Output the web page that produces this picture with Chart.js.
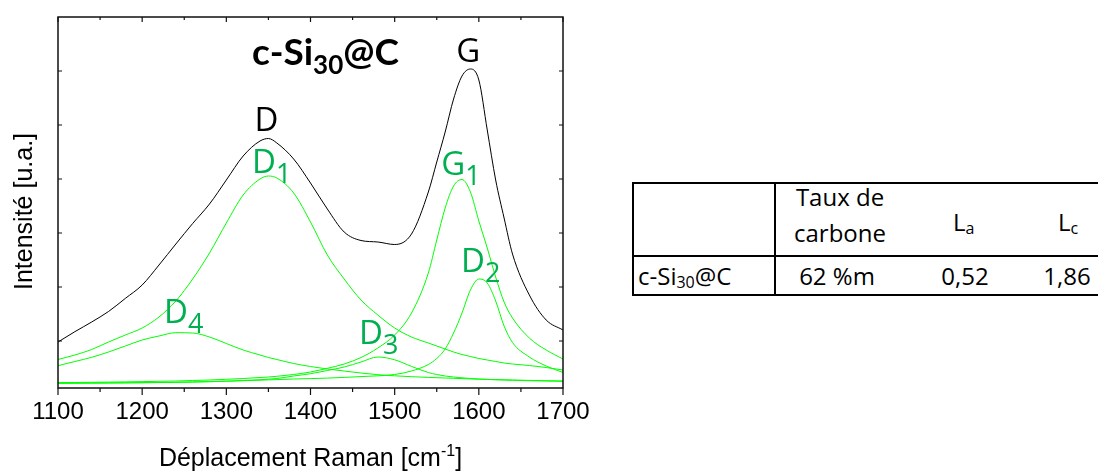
<!DOCTYPE html>
<html>
<head>
<meta charset="utf-8">
<script src="https://cdn.jsdelivr.net/npm/chart.js@4.4.1/dist/chart.umd.min.js"></script>
<style>
  html, body { margin:0; padding:0; background:#fff; }
  body { width:1098px; height:471px; overflow:hidden; position:relative; }
  #wrap { position:absolute; left:0; top:0; width:600px; height:471px; }
  #tbl { position:absolute; left:600px; top:0; }
</style>
</head>
<body>
<div id="wrap"><canvas id="c" width="600" height="471"></canvas></div>
<svg id="tbl" width="498" height="471" xmlns="http://www.w3.org/2000/svg">
  <g stroke="#000" stroke-width="2">
    <line x1="32" y1="183" x2="498" y2="183"/>
    <line x1="32" y1="256" x2="498" y2="256"/>
    <line x1="32" y1="295" x2="498" y2="295"/>
    <line x1="33" y1="182" x2="33" y2="296"/>
    <line x1="175" y1="182" x2="175" y2="296"/>
  </g>
  <g font-family="'Open Sans', sans-serif" font-size="24" fill="#000">
    <text x="240" y="206" text-anchor="middle">Taux de</text>
    <text x="240" y="242" text-anchor="middle">carbone</text>
    <text x="353" y="231">L<tspan font-size="16" dy="3">a</tspan></text>
    <text x="458" y="231">L<tspan font-size="16" dy="3">c</tspan></text>
    <text x="38" y="285">c-Si<tspan font-size="16" dy="3">30</tspan><tspan dy="-3">@C</tspan></text>
    <text x="237" y="285" text-anchor="middle">62 %m</text>
    <text x="365" y="285" text-anchor="middle">0,52</text>
    <text x="467" y="285" text-anchor="middle">1,86</text>
  </g>
</svg>
<script>
// ---- data (Raman shift in cm-1, intensity in a.u.) ----
const ramanShift = [1100,1120,1140,1160,1180,1200,1220,1240,1260,1280,1300,1320,1340,1350,1360,1380,1400,1420,1440,1460,1480,1500,1520,1540,1550,1560,1570,1580,1590,1600,1610,1620,1630,1640,1660,1680,1700];
const spectrumTotal = [53,63.3,73,83.5,96.6,110,130,151,171.5,191,215,239,254,256.5,252,236,212,186,163,154.5,153,150.5,161,203,233,263,296,319,326,315,265,215,177,141,100,75,65];
const bandD1 = [35.5,40,45.5,53,60,67,78,94,116,142,172,200,216,219,217,202,173,140,116,95,80,67,58,52,49,46,43,40.5,38.5,36.5,35,33.5,32,31,29.5,27.5,25];
const bandD4 = [29.3,33.5,37.7,43,49,55,59,62.3,62,58,51.5,45,40,37.5,35.5,31.5,28.5,26,24,22,20.3,19.2,18.3,17.6,17.3,17,16.7,16.4,16.1,15.8,15.6,15.4,15.2,15,14.6,14.3,14];
const bandD3 = [11.8,11.9,12,12.1,12.2,12.3,12.5,12.7,13,13.3,13.8,14.5,15.3,15.8,16.5,19,21.3,24.5,28,33,38,35.2,28.6,22.5,20.5,19,18,17.2,16.5,16,15.6,15.2,15,14.7,14.3,14,13.7];
const bandG1 = [12.4,12.5,12.7,12.9,13.1,13.4,13.7,14,14.5,15,15.7,16.5,17.5,18,18.7,20.5,23,26.7,31,37.5,47,60,82,122,155,187,209,215.5,203,174,147,118,93,77,57,45,36];
const bandD2 = [11.7,11.8,11.9,12,12.1,12.3,12.5,12.7,13,13.4,13.8,14.3,14.8,15.1,15.4,16,16.4,16.9,17.6,18.4,19.2,20.5,24,30.5,36.5,46,62,82,105,116,112,94,69,52.5,38,29,22.5];

const xMajorTicks = [1100,1200,1300,1400,1500,1600,1700];
const xMinorTicks = [1150,1250,1350,1450,1550,1650];
const yTicks = [54,108,162,216,270,324];

// ---- annotation texts (positions in data units) ----
const sampleTitle = {parts:['c-Si','30','@C'], x:1330.5, y:330};
const bandLabels = [
  {main:'D', sub:'',  x:1347.7, y:264, color:'#000', align:'center'},
  {main:'G', sub:'',  x:1587.4, y:333, color:'#000', align:'center'},
  {main:'D', sub:'1', x:1330.5, y:222, color:'#00b050', align:'left'},
  {main:'G', sub:'1', x:1555.4, y:220, color:'#00b050', align:'left'},
  {main:'D', sub:'2', x:1578.8, y:123, color:'#00b050', align:'left'},
  {main:'D', sub:'3', x:1457.6, y:51,  color:'#00b050', align:'left'},
  {main:'D', sub:'4', x:1225.9, y:72,  color:'#00b050', align:'left'}
];

const GREEN = '#00ff00';
function series(values) { return ramanShift.map((x, i) => ({x: x, y: values[i]})); }
function ds(label, values, color) {
  return {label, data: series(values), borderColor: color, borderWidth: 1,
          pointRadius: 0, fill: false, cubicInterpolationMode: 'monotone'};
}

const decor = {
  id: 'decor',
  afterDraw(chart) {
    const ctx = chart.ctx, a = chart.chartArea, xs = chart.scales.x, ys = chart.scales.y;
    ctx.save();
    // frame
    ctx.strokeStyle = '#111';
    ctx.lineWidth = 1.5;
    ctx.strokeRect(a.left, a.top, a.right - a.left, a.bottom - a.top);
    ctx.lineWidth = 1.2;
    ctx.beginPath();
    xMajorTicks.forEach(v => {
      const p = xs.getPixelForValue(v);
      ctx.moveTo(p, a.bottom); ctx.lineTo(p, a.bottom + 7);
      ctx.moveTo(p, a.top); ctx.lineTo(p, a.top + 5);
    });
    xMinorTicks.forEach(v => {
      const p = xs.getPixelForValue(v);
      ctx.moveTo(p, a.bottom); ctx.lineTo(p, a.bottom + 4);
      ctx.moveTo(p, a.top); ctx.lineTo(p, a.top + 3);
    });
    yTicks.forEach(v => {
      const p = ys.getPixelForValue(v);
      ctx.moveTo(a.left, p); ctx.lineTo(a.left + 4, p);
      ctx.moveTo(a.right, p); ctx.lineTo(a.right - 4, p);
    });
    ctx.stroke();

    // axis titles
    ctx.fillStyle = '#000';
    ctx.textBaseline = 'alphabetic';
    ctx.font = '25px "Liberation Sans", Arial, sans-serif';
    const t1 = 'Déplacement Raman [cm', t2 = '-1', t3 = ']';
    const w1 = ctx.measureText(t1).width, w3 = ctx.measureText(t3).width;
    ctx.font = '16px "Liberation Sans", Arial, sans-serif';
    const w2 = ctx.measureText(t2).width;
    let sx = (a.left + a.right) / 2 - (w1 + w2 + w3) / 2;
    const by = 466;
    ctx.font = '25px "Liberation Sans", Arial, sans-serif';
    ctx.textAlign = 'left';
    ctx.fillText(t1, sx, by);
    ctx.font = '16px "Liberation Sans", Arial, sans-serif';
    ctx.fillText(t2, sx + w1, by - 10);
    ctx.font = '25px "Liberation Sans", Arial, sans-serif';
    ctx.fillText(t3, sx + w1 + w2, by);

    ctx.save();
    ctx.translate(31.5, (a.top + a.bottom) / 2 + 9);
    ctx.rotate(-Math.PI / 2);
    ctx.textAlign = 'center';
    ctx.fillText('Intensité [u.a.]', 0, 0);
    ctx.restore();

    // sample title
    let tx = xs.getPixelForValue(sampleTitle.x), ty = ys.getPixelForValue(sampleTitle.y);
    ctx.textAlign = 'left';
    ctx.font = 'bold 37px Lato, sans-serif';
    ctx.fillText(sampleTitle.parts[0], tx, ty);
    tx += ctx.measureText(sampleTitle.parts[0]).width;
    ctx.font = 'bold 26px Lato, sans-serif';
    ctx.fillText(sampleTitle.parts[1], tx, ty + 9);
    tx += ctx.measureText(sampleTitle.parts[1]).width;
    ctx.font = 'bold 37px Lato, sans-serif';
    ctx.fillText(sampleTitle.parts[2], tx, ty);

    // band labels
    bandLabels.forEach(l => {
      const px = xs.getPixelForValue(l.x), py = ys.getPixelForValue(l.y);
      ctx.fillStyle = l.color;
      ctx.font = '33px "Open Sans", sans-serif';
      ctx.textAlign = l.align;
      ctx.fillText(l.main, px, py);
      if (l.sub) {
        const w = ctx.measureText(l.main).width;
        ctx.font = '27px "Open Sans", sans-serif';
        ctx.textAlign = 'left';
        ctx.fillText(l.sub, px + w, py + 10);
      }
    });
    ctx.restore();
  }
};

new Chart(document.getElementById('c'), {
  type: 'line',
  data: {
    datasets: [
      ds('D4', bandD4, GREEN),
      ds('D3', bandD3, GREEN),
      ds('D2', bandD2, GREEN),
      ds('G1', bandG1, GREEN),
      ds('D1', bandD1, GREEN),
      ds('Somme', spectrumTotal, '#000')
    ]
  },
  options: {
    responsive: false,
    animation: false,
    devicePixelRatio: 1,
    layout: { padding: { top: 17, right: 37, left: 0, bottom: 0 } },
    plugins: { legend: { display: false }, tooltip: { enabled: false } },
    scales: {
      x: {
        type: 'linear', min: 1100, max: 1700,
        grid: { display: false, drawTicks: false },
        border: { display: false },
        ticks: {
          stepSize: 100, padding: 10, maxRotation: 0, autoSkip: false, color: '#000',
          font: { family: '"Liberation Sans", Arial, sans-serif', size: 24 },
          callback: v => String(v)
        },
        afterFit(s) { s.height = 83; s.paddingLeft = 0; s.paddingRight = 0; }
      },
      y: {
        type: 'linear', min: 7, max: 378,
        grid: { display: false, drawTicks: false },
        border: { display: false },
        ticks: { display: false },
        afterFit(s) { s.width = 58; }
      }
    }
  },
  plugins: [decor]
});
</script>
</body>
</html>
